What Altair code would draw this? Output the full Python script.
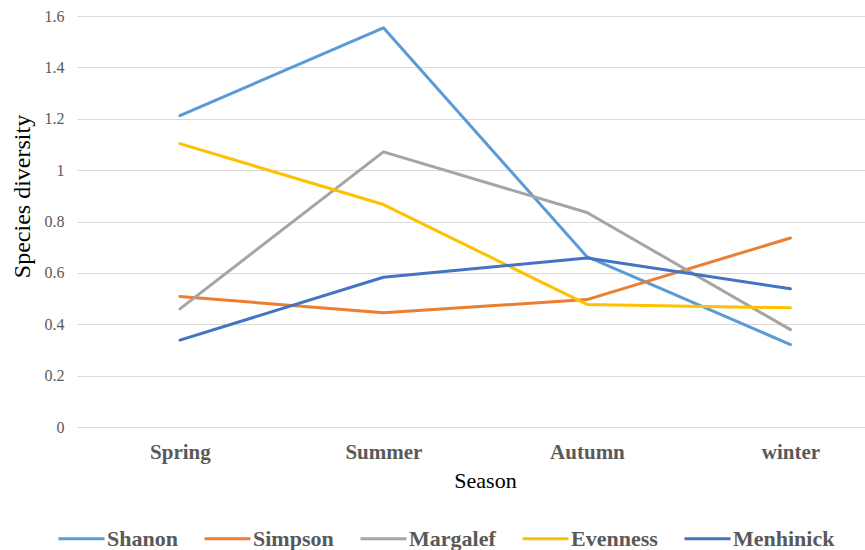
import altair as alt
import pandas as pd

seasons = ["Spring", "Summer", "Autumn", "winter"]
series_names = ["Shanon", "Simpson", "Margalef", "Evenness", "Menhinick"]
shanon = [1.212, 1.554, 0.663, 0.321]
simpson = [0.508, 0.445, 0.496, 0.736]
margalef = [0.460, 1.071, 0.835, 0.379]
evenness = [1.103, 0.866, 0.477, 0.464]
menhinick = [0.338, 0.583, 0.658, 0.538]
colors = ["#5B9BD5", "#ED7D31", "#A5A5A5", "#FFC000", "#4472C4"]
y_ticks = [0, 0.2, 0.4, 0.6, 0.8, 1.0, 1.2, 1.4, 1.6]

rows = []
for name, vals in zip(series_names, [shanon, simpson, margalef, evenness, menhinick]):
    for s, v in zip(seasons, vals):
        rows.append({"Season": s, "Series": name, "Value": v})
df = pd.DataFrame(rows)

FONT = "Liberation Serif"

chart = alt.Chart(df).mark_line(strokeWidth=3, strokeJoin="round", strokeCap="round").encode(
    x=alt.X("Season:N", sort=seasons,
            scale=alt.Scale(type="point", padding=0.436, align=0.58),
            axis=alt.Axis(title="Season", domain=False, ticks=False, grid=False,
                          labelAngle=0, labelFont=FONT, labelFontSize=21, labelFontWeight="bold",
                          labelColor="#595959", labelPadding=14,
                          titleFont=FONT, titleFontSize=22, titleFontWeight="normal",
                          titleColor="#000000", titleX=408, titleY=53,
                          titleAlign="center", titleBaseline="middle")),
    y=alt.Y("Value:Q", scale=alt.Scale(domain=[0, 1.6], nice=False, zero=True),
            axis=alt.Axis(title="Species diversity", values=y_ticks, format="~g",
                          domain=False, ticks=False, grid=True, gridColor="#d9d9d9", gridWidth=1,
                          labelFont=FONT, labelFontSize=16, labelColor="#595959", labelPadding=13,
                          titleFont=FONT, titleFontSize=24, titleFontWeight="normal",
                          titleColor="#000000", titleX=-55, titleY=180, titleAngle=-90,
                          titleAlign="center", titleBaseline="middle")),
    color=alt.Color("Series:N", sort=series_names,
                    scale=alt.Scale(domain=series_names, range=colors),
                    legend=alt.Legend(title=None, orient="none", direction="horizontal",
                                      legendX=-20, legendY=498, padding=0,
                                      symbolType="stroke", symbolSize=2116, symbolStrokeWidth=3,
                                      labelFont=FONT, labelFontSize=22, labelFontWeight="bold",
                                      labelColor="#595959", labelOffset=1, columnPadding=20,
                                      labelLimit=300)),
    detail="Series:N",
).properties(
    width=788, height=411,
    padding={"left": 77, "top": 16, "right": 0, "bottom": 123},
    autosize=alt.AutoSizeParams(type="none"),
    background="white",
).configure_view(stroke=None)

chart.save("out.html", embed_options={"renderer": "svg", "actions": False})
